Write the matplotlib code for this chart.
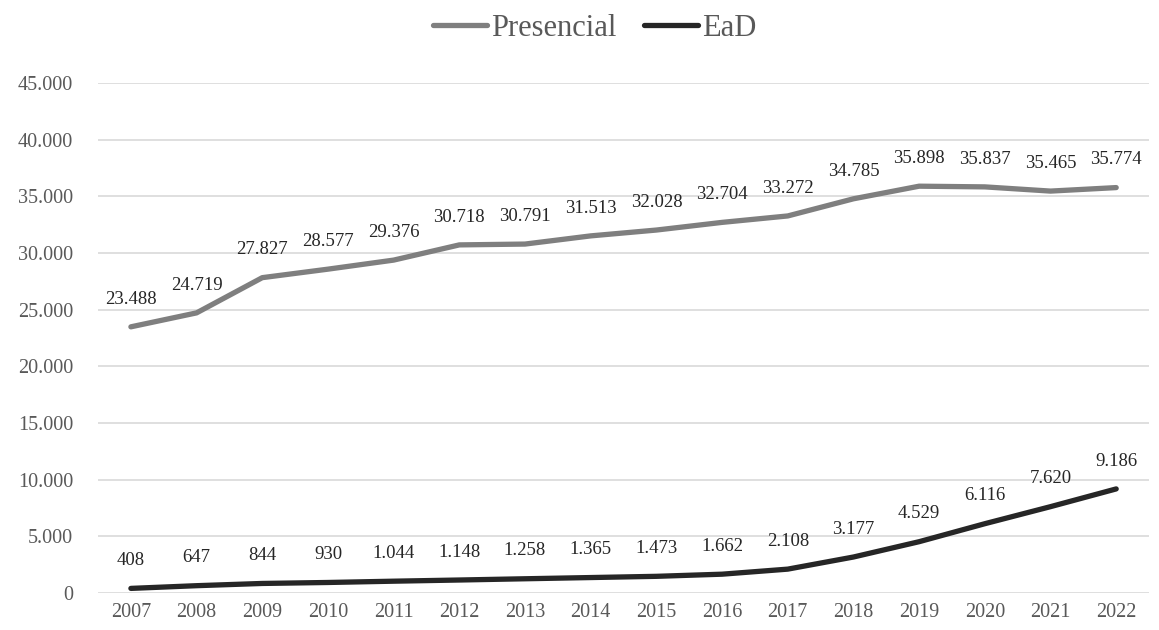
import matplotlib
matplotlib.use('Agg')
import matplotlib.pyplot as plt
from matplotlib.ticker import FuncFormatter

years = list(range(2007, 2023))
presencial = [23488, 24719, 27827, 28577, 29376, 30718, 30791, 31513,
              32028, 32704, 33272, 34785, 35898, 35837, 35465, 35774]
ead = [408, 647, 844, 930, 1044, 1148, 1258, 1365,
       1473, 1662, 2108, 3177, 4529, 6116, 7620, 9186]


def br(v):
    # thousands separator with a dot
    return f'{int(v):,}'.replace(',', '.')


plt.rcParams['font.family'] = ['Liberation Serif', 'DejaVu Serif']

fig = plt.figure(figsize=(11.59, 6.3), dpi=100)
ax = fig.add_axes([0.0846, 0.0587, 0.9068, 0.8095])

x = list(range(len(years)))
ax.plot(x, presencial, color='#7f7f7f', lw=3.8, solid_capstyle='round',
        solid_joinstyle='round', label='Presencial', zorder=3)
ax.plot(x, ead, color='#262626', lw=3.8, solid_capstyle='round',
        solid_joinstyle='round', label='EaD', zorder=3)

for xi, v in zip(x, presencial):
    ax.annotate(br(v), (xi, v), xytext=(0, 20), textcoords='offset points',
                ha='center', va='center', fontsize=13.5, color='#262626')
for xi, v in zip(x, ead):
    ax.annotate(br(v), (xi, v), xytext=(0, 20), textcoords='offset points',
                ha='center', va='center', fontsize=13.5, color='#262626')

ax.set_xlim(-0.5, len(years) - 0.5)
ax.set_ylim(0, 45000)
ax.set_yticks(range(0, 45001, 5000))
ax.yaxis.set_major_formatter(FuncFormatter(lambda v, p: br(v)))
ax.set_xticks(x)
ax.set_xticklabels([str(y) for y in years])
ax.tick_params(length=0, labelsize=14.5, labelcolor='#595959')
ax.tick_params(axis='y', pad=18)
ax.tick_params(axis='x', pad=7)
ax.grid(axis='y', color='#d9d9d9', lw=1.2)
ax.set_axisbelow(True)
for s in ax.spines.values():
    s.set_visible(False)

ax.legend(loc='center', bbox_to_anchor=(0.473, 1.107), ncol=2, frameon=False,
          fontsize=22, labelcolor='#595959', handlelength=1.75, handletextpad=0.15,
          columnspacing=0.9)

fig.savefig('out.png', dpi=100)
